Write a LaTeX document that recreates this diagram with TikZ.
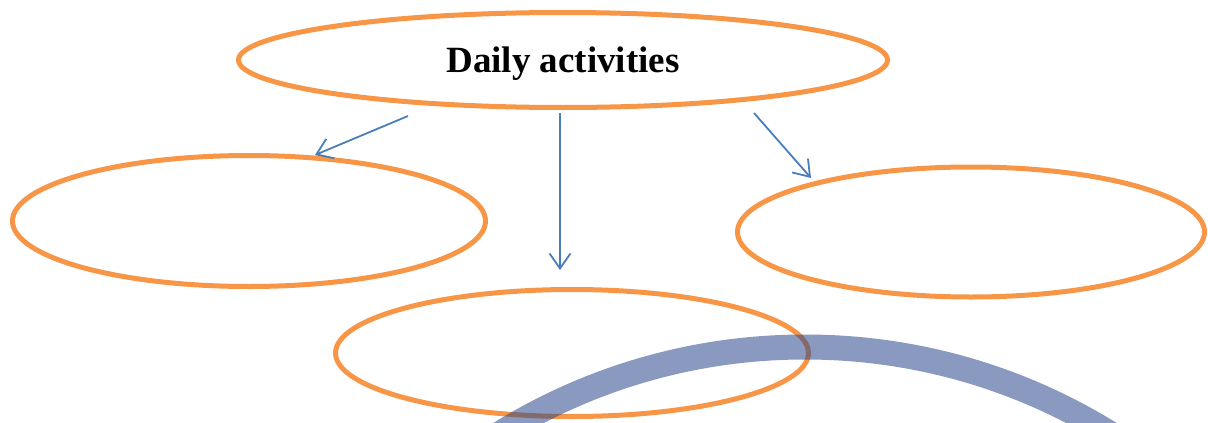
\documentclass[tikz,border=0pt]{standalone}
\usepackage{fontspec}
\setmainfont{Liberation Serif}
\usetikzlibrary{shapes.geometric,arrows.meta}
\definecolor{bubbleorange}{HTML}{F79646}
\definecolor{linkblue}{HTML}{4A7EBB}
\definecolor{arcblue}{RGB}{40,70,140}

\begin{document}
\begin{tikzpicture}[x=1pt,y=-1pt,
    bubble/.style={ellipse,draw=bubbleorange,line width=5pt,inner sep=0pt},
    link/.style={draw=linkblue,line width=1.8pt,-{Straight Barb[length=15pt,width=21pt]}}]
    \useasboundingbox (0,0) rectangle (1208,423);

    \node[bubble,minimum width=649pt,minimum height=95pt,text depth=0pt,
          font=\bfseries\fontsize{37}{40}\selectfont] (daily) at (563,60) {Daily activities};
    \node[bubble,minimum width=473pt,minimum height=131pt] (left) at (249,221) {};
    \node[bubble,minimum width=467pt,minimum height=130pt] (right) at (971,232) {};
    \node[bubble,minimum width=473pt,minimum height=127pt] (bottom) at (572,353) {};

    \coordinate (l0) at (408,116);
    \coordinate (l1) at (315,155);
    \coordinate (m0) at (560,113);
    \coordinate (m1) at (560,270);
    \coordinate (r0) at (754,113);
    \coordinate (r1) at (811,178);
    \draw[link] (l0) -- (l1);
    \draw[link] (m0) -- (m1);
    \draw[link] (r0) -- (r1);

    \begin{scope}
      \clip (0,0) rectangle (1208,423);
      \draw[arcblue,opacity=0.55,line width=25pt] (805,927) circle[radius=580];
    \end{scope}
\end{tikzpicture}
\end{document}
